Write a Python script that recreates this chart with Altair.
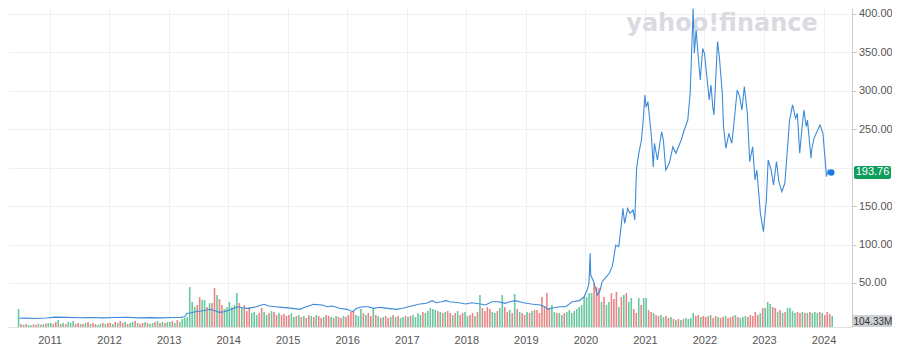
import altair as alt
import pandas as pd

# ---------------- price line (decimal year, close) ----------------
price_t = [2010.49, 2010.60, 2010.75, 2010.95, 2011.10, 2011.30, 2011.50, 2011.70, 2011.90,
           2012.10, 2012.30, 2012.50, 2012.70, 2012.90, 2013.05, 2013.20, 2013.27, 2013.31,
           2013.36, 2013.45, 2013.55, 2013.70, 2013.78, 2013.85, 2013.93, 2014.02, 2014.10,
           2014.16, 2014.24, 2014.33, 2014.47, 2014.60, 2014.68, 2014.80, 2014.90, 2015.08,
           2015.20, 2015.31, 2015.44, 2015.58, 2015.66, 2015.75, 2015.87, 2016.00, 2016.09,
           2016.16, 2016.25, 2016.35, 2016.45, 2016.55, 2016.68, 2016.83, 2016.93, 2017.08,
           2017.22, 2017.33, 2017.43, 2017.49, 2017.59, 2017.66, 2017.72, 2017.88, 2017.99,
           2018.09, 2018.24, 2018.32, 2018.43, 2018.54, 2018.65, 2018.73, 2018.82, 2018.96,
           2019.09, 2019.24, 2019.32, 2019.37, 2019.42, 2019.57, 2019.67, 2019.78, 2019.90,
           2019.98, 2020.03, 2020.06, 2020.08, 2020.09, 2020.14, 2020.20, 2020.25, 2020.28,
           2020.33, 2020.40, 2020.45, 2020.48, 2020.51, 2020.56, 2020.60, 2020.63, 2020.66,
           2020.71, 2020.75, 2020.80, 2020.83, 2020.86, 2020.90, 2020.94, 2020.97, 2021.00,
           2021.02, 2021.05, 2021.07, 2021.11, 2021.14, 2021.16, 2021.21, 2021.28, 2021.31,
           2021.35, 2021.41, 2021.47, 2021.52, 2021.61, 2021.66, 2021.72, 2021.76, 2021.81,
           2021.83, 2021.86, 2021.90, 2021.93, 2021.97, 2022.00, 2022.04, 2022.08, 2022.11,
           2022.14, 2022.16, 2022.22, 2022.25, 2022.30, 2022.32, 2022.36, 2022.41, 2022.46,
           2022.49, 2022.55, 2022.59, 2022.63, 2022.67, 2022.72, 2022.76, 2022.81, 2022.85,
           2022.88, 2022.94, 2022.99, 2023.04, 2023.07, 2023.12, 2023.16, 2023.21, 2023.25,
           2023.30, 2023.35, 2023.43, 2023.48, 2023.53, 2023.56, 2023.60, 2023.63, 2023.67,
           2023.71, 2023.73, 2023.79, 2023.80, 2023.84, 2023.94, 2023.99, 2024.05, 2024.08,
           2024.13]
price_v = [4.0, 4.2, 3.8, 4.5, 5.5, 5.2, 4.8, 5.0, 4.6,
           5.0, 5.4, 4.6, 4.9, 4.6, 5.0, 5.2, 6.0, 10.5,
           11.0, 12.6, 13.5, 15.7, 13.9, 11.8, 12.6, 14.8, 17.0,
           19.1, 17.8, 17.0, 19.0, 22.2, 20.0, 19.0, 18.3, 17.0,
           15.7, 19.0, 22.2, 21.3, 19.0, 20.0, 17.0, 15.7, 12.6,
           17.0, 19.0, 19.0, 17.0, 18.3, 17.0, 15.7, 17.0, 20.0,
           22.6, 23.5, 27.0, 24.3, 25.6, 27.0, 25.6, 24.3, 22.6,
           24.3, 22.6, 21.3, 25.6, 25.6, 23.5, 25.6, 27.0, 24.3,
           22.6, 21.3, 19.0, 15.7, 17.0, 19.0, 19.0, 25.6, 27.0,
           32.0, 40.9, 49.5, 88.6, 60.0, 51.7, 34.3, 40.9, 51.7,
           56.0, 62.6, 71.2, 84.2, 99.4, 97.2, 123.0, 147.0, 127.6,
           147.0, 140.6, 145.0, 132.0, 199.0, 220.0, 235.0, 260.0, 294.6,
           279.0, 286.0, 270.8, 240.0, 201.0, 231.7, 210.0, 246.8, 236.0,
           197.0, 205.7, 227.3, 218.7, 236.0, 249.0, 262.0, 296.8, 407.0,
           348.8, 379.0, 340.0, 314.0, 355.0, 348.8, 318.4, 288.0, 307.6,
           279.0, 268.5, 364.0, 344.4, 296.8, 253.3, 225.2, 244.7, 231.7,
           253.3, 301.0, 292.4, 275.0, 305.4, 270.8, 207.8, 227.3, 184.0,
           197.0, 140.6, 116.7, 158.0, 210.0, 197.0, 177.6, 207.8, 181.8,
           168.8, 179.7, 262.0, 281.6, 264.2, 270.8, 218.7, 244.7, 275.0,
           253.3, 262.0, 212.2, 223.0, 238.2, 255.5, 244.7, 188.3, 197.0,
           193.76]

last_price = 193.76
last_volume_label = "104.33M"

# ---------------- volume (half-month bars, millions of shares) ----------------
vol_start = {2010: 11, 2011: 0, 2012: 0, 2013: 0, 2014: 0, 2015: 0, 2016: 0,
             2017: 0, 2018: 0, 2019: 0, 2020: 0, 2021: 0, 2022: 0, 2023: 0, 2024: 0}
vol_2010 = [1350, 230, 150, 220, 160, 140, 210, 170, 240, 160, 220, 260, 300]
vol_2011 = [300, 220, 380, 520, 230, 300, 220, 380, 300, 450, 230, 300,
            220, 230, 300, 380, 230, 300, 220, 160, 230, 300, 230, 300]
vol_2012 = [300, 230, 380, 300, 450, 300, 380, 230, 300, 380, 450, 300,
            230, 300, 380, 300, 230, 300, 380, 450, 300, 380, 300, 380]
vol_2013 = [380, 450, 300, 520, 380, 600, 680, 750, 3000, 1880, 1500, 1650,
            2250, 2030, 2030, 1500, 1800, 1800, 2930, 2400, 2100, 1650, 1350, 1500]
vol_2014 = [1880, 1500, 1650, 2550, 1800, 1430, 1650, 1200, 1500, 1050, 1130, 900,
            1050, 1430, 1130, 900, 1050, 1200, 1130, 900, 1050, 900, 980, 830]
vol_2015 = [900, 1050, 750, 830, 900, 750, 830, 680, 900, 830, 750, 900,
            830, 680, 750, 900, 830, 750, 680, 830, 750, 680, 830, 750]
vol_2016 = [900, 1130, 1200, 900, 830, 1350, 1050, 900, 1050, 830, 1430, 900,
            830, 680, 750, 830, 680, 750, 900, 750, 830, 680, 750, 830]
vol_2017 = [750, 830, 900, 750, 1050, 900, 1130, 1050, 1200, 1430, 1350, 1280,
            1200, 1130, 1050, 1130, 1200, 1050, 900, 1050, 1200, 900, 1050, 1130]
vol_2018 = [830, 900, 1050, 830, 1130, 2400, 1430, 1200, 1500, 1350, 1130, 1050,
            1200, 1430, 2400, 1500, 1130, 1280, 1050, 2480, 1350, 1130, 1050, 900]
vol_2019 = [1130, 1050, 1200, 1280, 1280, 1050, 2250, 1500, 2550, 1430, 1650, 1130,
            1050, 1050, 900, 1050, 1130, 1280, 1050, 1200, 1350, 1500, 1650, 2250]
vol_2020 = [2250, 2550, 2550, 3300, 3000, 2930, 1880, 2250, 1650, 1880, 2550, 2100,
            2630, 1500, 2250, 2400, 2550, 1880, 2180, 1350, 1050, 2180, 1650, 2180]
vol_2021 = [2180, 1280, 1130, 1050, 900, 830, 900, 750, 830, 680, 750, 600,
            530, 600, 530, 600, 680, 600, 680, 1050, 830, 900, 750, 830]
vol_2022 = [750, 830, 900, 680, 830, 750, 680, 750, 830, 680, 750, 830,
            900, 750, 680, 750, 830, 750, 900, 830, 1130, 900, 1050, 1430]
vol_2023 = [1430, 1880, 1730, 1500, 1430, 1130, 1280, 1050, 1130, 1430, 1430, 1200,
            1050, 1130, 1050, 1130, 1050, 1050, 1130, 1050, 1130, 1050, 1130, 1050]
vol_2024 = [900, 1130, 980, 830]

dir_2010 = "grgrggrrgrgrg"
dir_2011 = "grrgrgrgggrrgrgrgrrggrgr"
dir_2012 = "rgrgrrgrggrgrrgrggrgrgrg"
dir_2013 = "grgrgggggggrrggrgrrgrrgg"
dir_2014 = "ggggrgrrrgggrrggrgrrgrrr"
dir_2015 = "rggrgrgrrgrgrrgrrgrgrrgr"
dir_2016 = "rrrgggrgrrgrgrgrrgrgrggr"
dir_2017 = "grggggrgggggrgrgrrgrgrrg"
dir_2018 = "grrgrgrrrrggrggrrgrgrgrr"
dir_2019 = "grgrrrrrrrggrggrgggggggg"
dir_2020 = "gggrrrgrggrrrgrgrggrrgrg"
dir_2021 = "grrgrrggrrgrgrgrggggrrgr"
dir_2022 = "rrgrrgrrgrrrgrgggrrrrrgr"
dir_2023 = "gggrrgrgrggggrrgrgrgggrg"
dir_2024 = "rrrg"

vol_lists = {2010: (vol_2010, dir_2010), 2011: (vol_2011, dir_2011), 2012: (vol_2012, dir_2012),
             2013: (vol_2013, dir_2013), 2014: (vol_2014, dir_2014), 2015: (vol_2015, dir_2015),
             2016: (vol_2016, dir_2016), 2017: (vol_2017, dir_2017), 2018: (vol_2018, dir_2018),
             2019: (vol_2019, dir_2019), 2020: (vol_2020, dir_2020), 2021: (vol_2021, dir_2021),
             2022: (vol_2022, dir_2022), 2023: (vol_2023, dir_2023), 2024: (vol_2024, dir_2024)}

years = list(range(2011, 2025))
price_ticks = [50, 100, 150, 200, 250, 300, 350, 400]

# ---------------- build tables ----------------
price_df = pd.DataFrame({"t": price_t, "p": price_v})
rows = []
for yr, (vals, dirs) in vol_lists.items():
    k0 = vol_start[yr]
    for i, (v, d) in enumerate(zip(vals, dirs)):
        rows.append({"t": yr + (k0 + i + 0.5) / 24.0, "vol": v, "dir": d})
vol_df = pd.DataFrame(rows)
last_df = pd.DataFrame({"t": [price_t[-1]], "p": [last_price], "lab": [f"{last_price:.2f}"]})
one = pd.DataFrame({"a": [0]})

PLOT_W = 844
PLOT_H = 319
FONT = "Liberation Sans"

X = alt.X("t:Q",
          scale=alt.Scale(domain=[2010.386, 2010.386 + PLOT_W / 60.25], nice=False, zero=False),
          axis=alt.Axis(values=years, format="d", grid=True, gridColor="#f0f0f0",
                        tickSize=0, labelPadding=7, domainColor="#e2e2e2",
                        labelFontSize=11, labelColor="#555555", labelFont=FONT,
                        title=None, labelFlush=False))
YP = alt.Y("p:Q",
           scale=alt.Scale(domain=[-7.29, 407.75], nice=False, zero=False),
           axis=alt.Axis(orient="right", values=price_ticks, grid=True,
                         labelExpr="datum.value == 200 ? '' : format(datum.value, '.2f')",
                         gridColor="#f0f0f0", tickSize=4, tickColor="#cccccc",
                         domainColor="#cccccc", labelPadding=2.5, labelFontSize=11,
                         labelColor="#555555", labelFont=FONT, title=None))

watermark = alt.Chart(one).mark_text(
    text="yahoo!finance", font="DejaVu Sans", fontSize=24, fontWeight="bold",
    color="#dadbe0", align="center", baseline="alphabetic"
).encode(x=alt.value(714), y=alt.value(23))

bars = alt.Chart(vol_df).mark_bar(size=1.6, orient="vertical", opacity=0.72).encode(
    x=X,
    y=alt.Y("vol:Q", scale=alt.Scale(domain=[0, 24000], nice=False), axis=None),
    color=alt.Color("dir:N", scale=alt.Scale(domain=["g", "r"], range=["#2db37a", "#e05656"]),
                    legend=None),
)

line = alt.Chart(price_df).mark_line(color="#3d8bd8", strokeWidth=1.1).encode(x=X, y=YP)
dot = alt.Chart(last_df).mark_circle(size=42, color="#1c7be0", opacity=1).encode(x=X, y=YP)
price_box = alt.Chart(one).mark_rect(color="#0f9e5e", cornerRadius=2).encode(
    x=alt.value(846), x2=alt.value(883), y=alt.value(158), y2=alt.value(171))
price_text = alt.Chart(last_df).mark_text(
    color="white", fontSize=11, font=FONT, align="center", baseline="middle"
).encode(x=alt.value(864.5), y=YP, text="lab:N")

price_layer = alt.layer(line, dot, price_box, price_text)

vol_box = alt.Chart(one).mark_rect(color="#cdd0d5").encode(
    x=alt.value(845), x2=alt.value(884), y=alt.value(307), y2=alt.value(319))
vol_text = alt.Chart(one).mark_text(
    text=last_volume_label, color="#333333", fontSize=10, font=FONT,
    align="left", baseline="middle"
).encode(x=alt.value(845.5), y=alt.value(313.5))

chart = alt.layer(watermark, bars, price_layer, vol_box, vol_text).resolve_scale(
    y="independent"
).properties(
    width=PLOT_W, height=PLOT_H,
    autosize=alt.AutoSizeParams(type="none"),
    padding={"left": 0, "top": 0, "right": 40, "bottom": 20},
    background="white",
).configure_view(stroke=None)

chart.save("out.html", embed_options={"renderer": "svg", "actions": False})
